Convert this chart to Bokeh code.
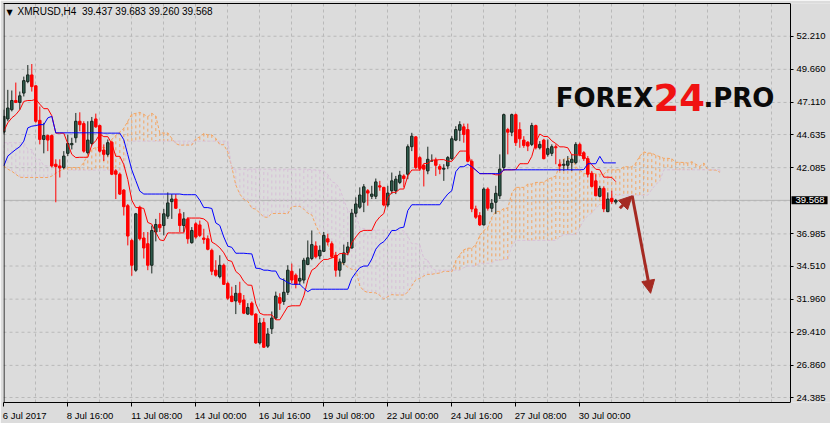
from bokeh.plotting import figure
from bokeh.models import (ColumnDataSource, FixedTicker, PrintfTickFormatter, Range1d,
                          Label, Span, Arrow, NormalHead, LinearAxis)
from bokeh.embed import file_html
from bokeh.resources import INLINE
import numpy as np

# ---------------- data (XMRUSD, H4) ----------------
open_ = [44.82, 45.84, 46.55, 47.26, 47.11, 47.83, 48.72, 49.23, 48.39, 45.73,
         44.26, 44.56, 44.56, 42.35, 42.22, 42.10, 43.19, 43.85, 44.39, 45.66,
         45.48, 43.24, 43.95, 45.84, 45.33, 43.44, 43.11, 44.05, 41.84, 41.58,
         40.36, 39.16, 36.48, 34.19, 39.04, 36.67, 36.23, 34.57, 37.13, 37.71,
         37.63, 38.35, 39.47, 39.67, 38.53, 37.63, 38.14, 36.31, 37.76, 37.68,
         36.67, 36.61, 35.72, 34.19, 33.69, 34.57, 33.17, 32.20, 31.82, 32.41,
         31.90, 30.81, 31.65, 30.81, 28.59, 30.17, 28.34, 29.68, 30.50, 32.08,
         31.78, 32.49, 34.11, 33.81, 33.35, 33.43, 34.63, 35.09, 36.06, 35.29,
         35.64, 36.61, 36.23, 35.34, 34.19, 34.78, 35.55, 35.90, 38.58, 39.04,
         39.42, 40.31, 39.88, 39.88, 40.69, 40.57, 39.21, 40.31, 40.31, 40.95,
         41.45, 41.58, 43.70, 44.46, 42.86, 42.27, 41.84, 42.60, 42.68, 42.17,
         41.97, 42.22, 42.78, 44.21, 44.97, 45.23, 45.02, 42.58, 38.91, 38.40,
         37.68, 40.44, 38.96, 39.42, 39.92, 42.10, 45.02, 44.82, 46.17, 45.02,
         44.21, 44.05, 43.88, 45.33, 43.62, 44.21, 43.11, 43.19, 43.70, 42.35,
         42.27, 42.27, 42.48, 42.48, 43.88, 43.24, 42.78, 41.66, 41.07, 39.88,
         40.49, 38.70, 39.73, 39.437]
high = [46.55, 48.08, 48.03, 48.64, 47.95, 49.10, 49.99, 50.07, 48.42, 46.80,
        45.54, 44.64, 44.64, 42.73, 42.73, 43.36, 44.64, 44.39, 46.30, 46.35,
        45.66, 45.66, 45.99, 46.25, 45.40, 43.88, 44.26, 44.13, 41.97, 41.71,
        40.44, 39.29, 36.61, 38.60, 39.16, 37.13, 37.13, 37.63, 38.14, 38.60,
        38.91, 40.18, 40.05, 40.05, 38.91, 38.66, 38.27, 37.51, 37.89, 38.01,
        37.38, 36.87, 35.85, 34.96, 35.34, 34.70, 33.30, 32.92, 33.05, 33.30,
        32.28, 31.65, 31.78, 30.88, 30.50, 30.50, 29.73, 31.01, 32.54, 32.41,
        33.56, 34.57, 34.70, 33.94, 34.32, 35.14, 36.48, 37.25, 36.41, 36.10,
        37.13, 37.00, 36.41, 35.60, 35.09, 36.16, 36.36, 38.91, 39.80, 40.57,
        40.82, 40.44, 40.69, 41.25, 41.07, 40.61, 40.69, 41.71, 41.45, 41.84,
        41.58, 43.88, 44.77, 44.51, 42.98, 42.35, 43.70, 43.11, 42.86, 42.35,
        42.35, 42.98, 44.51, 45.28, 45.66, 45.48, 45.48, 42.73, 39.16, 38.66,
        40.57, 40.57, 39.67, 40.69, 43.11, 46.25, 45.15, 46.25, 46.25, 45.58,
        44.51, 44.13, 45.54, 45.40, 44.13, 44.31, 44.26, 43.88, 43.88, 42.73,
        42.73, 42.98, 43.11, 44.05, 44.01, 43.36, 42.98, 41.84, 41.58, 40.69,
        40.64, 40.18, 40.31, 39.683]
low = [44.64, 45.66, 46.42, 47.06, 46.55, 47.57, 48.59, 47.95, 45.54, 43.88,
       43.19, 43.36, 42.10, 39.42, 41.33, 41.97, 42.98, 43.49, 44.01, 44.89,
       43.24, 43.11, 43.80, 45.15, 43.24, 42.60, 42.94, 41.51, 39.67, 39.98,
       38.40, 36.10, 33.76, 34.07, 36.48, 35.09, 34.19, 33.94, 36.41, 37.13,
       36.87, 38.14, 38.14, 38.91, 37.13, 37.13, 36.23, 36.23, 36.61, 36.74,
       36.23, 35.72, 33.81, 33.69, 33.56, 33.05, 31.90, 31.72, 30.81, 31.52,
       30.81, 30.75, 30.71, 28.51, 28.46, 28.20, 28.20, 29.28, 30.37, 31.13,
       31.52, 32.28, 33.17, 32.79, 33.05, 33.17, 34.57, 34.96, 35.09, 35.03,
       35.60, 36.10, 35.09, 33.69, 33.69, 34.57, 35.34, 35.85, 38.27, 38.91,
       38.66, 39.16, 39.67, 39.67, 40.31, 39.11, 39.04, 40.05, 40.05, 40.82,
       40.57, 41.20, 43.36, 41.97, 41.84, 40.64, 41.58, 42.60, 41.45, 41.58,
       41.07, 41.97, 42.68, 44.13, 44.13, 44.01, 42.50, 38.66, 38.14, 37.59,
       37.63, 38.78, 38.66, 38.53, 39.67, 41.84, 43.11, 44.51, 43.75, 43.62,
       43.62, 43.36, 43.75, 43.49, 43.49, 42.73, 42.94, 42.98, 42.35, 41.84,
       41.84, 41.91, 41.84, 42.35, 42.98, 42.60, 41.33, 40.57, 39.88, 39.80,
       38.66, 38.66, 39.29, 39.260]
close = [46.04, 46.68, 47.26, 47.11, 47.62, 48.79, 49.23, 48.33, 45.66, 44.26,
         44.56, 44.21, 42.22, 42.17, 42.06, 42.98, 43.95, 43.95, 45.66, 45.40,
         43.36, 44.21, 45.66, 45.23, 43.36, 43.11, 44.01, 41.58, 41.58, 40.05,
         39.08, 36.82, 34.57, 38.53, 36.61, 35.90, 34.57, 37.25, 37.71, 37.46,
         38.53, 39.37, 39.67, 38.96, 37.63, 38.14, 36.61, 37.25, 36.74, 36.87,
         36.56, 35.80, 34.11, 33.81, 34.57, 33.10, 32.03, 31.78, 32.41, 31.72,
         30.88, 31.32, 30.75, 28.59, 30.12, 28.26, 29.28, 30.50, 32.20, 31.65,
         32.49, 34.19, 33.43, 33.10, 33.56, 34.96, 35.14, 36.16, 35.22, 35.72,
         36.87, 36.36, 35.22, 34.19, 34.83, 35.52, 35.98, 38.58, 39.29, 39.98,
         40.61, 40.13, 40.05, 40.99, 40.59, 39.21, 40.13, 41.07, 41.20, 41.51,
         41.25, 43.70, 44.51, 42.10, 42.02, 41.97, 42.73, 42.60, 42.27, 41.97,
         42.04, 42.86, 44.31, 45.02, 45.40, 44.64, 42.58, 38.91, 38.27, 37.68,
         40.44, 38.96, 39.34, 40.11, 41.97, 46.17, 44.82, 46.17, 44.01, 44.31,
         43.80, 43.75, 45.33, 43.62, 43.88, 42.78, 43.55, 43.70, 43.62, 42.22,
         42.35, 42.60, 42.73, 43.88, 43.11, 42.78, 41.58, 40.64, 39.92, 40.49,
         38.91, 39.67, 39.47, 39.568]

# Ichimoku values (before enough bars are on screen)
tenkan_early = [44.89, 45.54, 45.92, 46.17, 46.55, 47.19, 47.26, 47.26]
kijun_early = [42.22, 42.98, 43.24, 43.49, 43.70, 44.13, 45.15, 45.28, 45.33, 45.40,
               45.40, 45.92, 46.04, 44.77, 44.77, 44.77, 44.77, 44.77, 44.77, 44.77,
               44.77, 44.77, 44.77, 44.77, 44.77]
span_a_early = [42.22, 41.97, 41.81, 41.58, 41.35, 41.33, 41.33, 41.33, 41.33, 41.33,
                41.33, 41.33, 41.43, 41.66, 41.84, 41.97, 42.10, 42.10, 42.10, 42.10,
                42.48, 43.11, 43.49, 43.65, 43.65, 43.65]
span_b_early = ([44.01] * 6 + [43.49] * 2 + [42.73] * 2 + [42.22] * 6 + [41.90] * 15
                + [44.13] * 26 + [41.97] * 20)

x_tick_bars = [0, 16, 32, 48, 64, 80, 96, 112, 128, 144]
x_tick_labels = ["6 Jul 2017", "8 Jul 16:00", "11 Jul 08:00", "14 Jul 00:00", "16 Jul 16:00",
                 "19 Jul 08:00", "22 Jul 00:00", "24 Jul 16:00", "27 Jul 08:00", "30 Jul 00:00"]
y_ticks = [52.210, 49.660, 47.110, 44.635, 42.085, 36.985, 34.510, 31.960, 29.410, 26.860, 24.385]
grid_y = y_ticks + [39.535]
last_price = 39.568
symbol = "XMRUSD,H4"

# ---------------- Ichimoku (9, 26, 52) from the candles ----------------
H = np.array(high)
L = np.array(low)
n = len(H)
tenkan = [tenkan_early[i] if i < 8 else (H[i - 8:i + 1].max() + L[i - 8:i + 1].min()) / 2
          for i in range(n)]
kijun = [kijun_early[i] if i < 25 else (H[i - 25:i + 1].max() + L[i - 25:i + 1].min()) / 2
         for i in range(n)]
nd = n + 26
span_a = [span_a_early[d] if d < 26 else (tenkan[d - 26] + kijun[d - 26]) / 2 for d in range(nd)]
span_b = [span_b_early[d] if d < 77 else (H[d - 77:d - 25].max() + L[d - 77:d - 25].min()) / 2
          for d in range(nd)]

BG = "#dcdcdc"
GRID = "#b9b9b9"
SANDY = "#f4a460"
THISTLE = "#d8bfd8"
BULL_FILL = "#2e5e4e"
BULL_LINE = "#18261f"
BEAR = "#ff0000"
ARROW = "#a52a22"
FONT = "Liberation Sans"
FS = 9.5            # small text size, px
PX_PER_BAR = 4.0

X0 = -0.075          # left edge of the chart box
XB = 196.675         # right edge of the chart box (price scale line)
XF = X0 + 827 / PX_PER_BAR   # frame reaches the right edge of the page
Y0, Y1 = 24.0, 54.73

p = figure(width=830, height=423, output_backend="svg", toolbar_location=None,
           x_range=Range1d(X0, XF), y_range=Range1d(Y0, Y1),
           y_axis_location=None, min_border_left=3, min_border_right=0,
           min_border_top=3, min_border_bottom=18,
           background_fill_color=BG, border_fill_color=BG,
           outline_line_color=None)

# vertical grid lines
p.xgrid.ticker = FixedTicker(ticks=list(range(8, 200, 8)))
p.xgrid.grid_line_color = GRID
p.xgrid.grid_line_dash = "3 3"
p.ygrid.grid_line_color = None
# horizontal grid lines, only across the chart box
p.segment(x0=[X0] * len(grid_y), y0=grid_y, x1=[XB] * len(grid_y), y1=grid_y,
          line_color=GRID, line_dash="3 3", line_width=1, level="underlay")
# current price line
p.segment(x0=[X0], y0=[last_price], x1=[XB], y1=[last_price],
          line_color="#b4b4b4", line_width=1, level="underlay")

# x axis: tick marks at the bar (minor ticks), labels left-aligned after the mark
CW = {" ": 0.278, ":": 0.278, "J": 0.5, "u": 0.556, "l": 0.222}
label_pos = []
for b, t in zip(x_tick_bars, x_tick_labels):
    w = sum(CW.get(ch, 0.556) for ch in t) * FS
    label_pos.append(round(b + (w / 2 - 1) / PX_PER_BAR, 3))
p.xaxis.ticker = FixedTicker(ticks=label_pos, minor_ticks=x_tick_bars)
p.xaxis.major_label_overrides = dict(zip(label_pos, x_tick_labels))
p.xaxis.major_label_text_font = FONT
p.xaxis.major_label_text_font_size = f"{FS}px"
p.xaxis.major_label_text_color = "black"
p.xaxis.major_label_standoff = 3
p.xaxis.major_tick_line_color = None
p.xaxis.major_tick_out = 0
p.xaxis.major_tick_in = 0
p.xaxis.minor_tick_line_color = "black"
p.xaxis.minor_tick_out = 4
p.xaxis.minor_tick_in = 0
p.xaxis.axis_line_color = "black"
p.xaxis.bounds = (X0, XB)

# price scale: drawn at the right edge of the chart box, labels to its right
yax = LinearAxis(fixed_location=XB, ticker=FixedTicker(ticks=y_ticks),
                 formatter=PrintfTickFormatter(format="%.3f"),
                 major_label_text_font=FONT, major_label_text_font_size=f"{FS}px",
                 major_label_text_color="black", major_label_standoff=-35,
                 major_tick_in=3, major_tick_out=0, minor_tick_line_color=None,
                 axis_line_color="black", major_tick_line_color="black")
p.add_layout(yax, "left")

# top and left edges of the chart box
top = LinearAxis(ticker=FixedTicker(ticks=[]), bounds=(X0, XB), axis_line_color="black",
                 major_tick_line_color=None, minor_tick_line_color=None,
                 major_tick_out=0, major_tick_in=0, minor_tick_out=0, minor_tick_in=0,
                 major_label_standoff=0)
p.add_layout(top, "above")
p.add_layout(Span(location=X0 + 0.125, dimension="height", line_color="black", line_width=1))

# cloud
dd = list(range(nd))
cloud = ColumnDataSource(dict(x=dd, a=span_a, b=span_b,
                              c=[SANDY if a >= b else THISTLE for a, b in zip(span_a, span_b)]))
p.segment(x0="x", y0="a", x1="x", y1="b", line_color="c", line_dash="3 3",
          line_width=1, source=cloud)
p.line(dd, span_a, line_color=SANDY, line_dash="3 2", line_width=1)
p.line(dd, span_b, line_color=THISTLE, line_dash="3 2", line_width=1)

# candles
idx = list(range(n))
up = [i for i in idx if close[i] >= open_[i]]
dn = [i for i in idx if close[i] < open_[i]]


def cds(ids):
    return ColumnDataSource(dict(
        x=ids,
        top=[max(open_[i], close[i]) for i in ids],
        bottom=[min(open_[i], close[i]) for i in ids],
        high=[high[i] for i in ids],
        low=[low[i] for i in ids]))


s_up, s_dn = cds(up), cds(dn)
p.segment(x0="x", y0="high", x1="x", y1="low", source=s_up, line_color=BULL_LINE, line_width=1)
p.segment(x0="x", y0="high", x1="x", y1="low", source=s_dn, line_color=BEAR, line_width=1)
p.vbar(x="x", width=0.62, top="top", bottom="bottom", source=s_up,
       fill_color=BULL_FILL, line_color=BULL_LINE, line_width=1)
p.vbar(x="x", width=0.62, top="top", bottom="bottom", source=s_dn,
       fill_color=BEAR, line_color=BEAR, line_width=1)

# tenkan / kijun
p.line(idx, tenkan, line_color="#ff0000", line_width=1)
p.line(idx, kijun, line_color="#0000ff", line_width=1)

# arrows
p.add_layout(Arrow(end=NormalHead(size=13, fill_color=ARROW, line_color=ARROW),
                   x_start=154.0, y_start=38.96, x_end=157.1, y_end=39.92,
                   line_color=ARROW, line_width=3))
p.add_layout(Arrow(end=NormalHead(size=13, fill_color=ARROW, line_color=ARROW),
                   x_start=157.1, y_start=39.92, x_end=161.7, y_end=32.41,
                   line_color=ARROW, line_width=3))

# title
p.add_layout(Label(x=X0, y=Y1, x_offset=3, y_offset=-4, text="\u25bc",
                   text_font="DejaVu Sans", text_font_size="8px", text_color="black",
                   text_baseline="top", text_align="left"))
p.add_layout(Label(x=X0, y=Y1, x_offset=14, y_offset=-2,
                   text=symbol + "\u00a0 " + " ".join(f"{v:.3f}" for v in
                                                      (open_[-1], high[-1], low[-1], close[-1])),
                   text_font=FONT, text_font_size="10px", text_color="black",
                   text_baseline="top", text_align="left"))

# logo
p.add_layout(Label(x=162.4, y=47.48, text="FOREX", text_font="DejaVu Sans",
                   text_font_style="bold", text_font_size="26px", text_color="#0a0a0a",
                   text_align="right", text_baseline="alphabetic"))
p.add_layout(Label(x=162.4, y=47.48, text="24", text_font="DejaVu Sans",
                   text_font_style="bold", text_font_size="37px", text_color="#f01212",
                   text_align="left", text_baseline="alphabetic"))
p.add_layout(Label(x=174.9, y=47.48, text=".PRO", text_font="DejaVu Sans",
                   text_font_style="bold", text_font_size="26px", text_color="#0a0a0a",
                   text_align="left", text_baseline="alphabetic"))

# last price tag on the price scale
tag_kw = dict(x=XB, y=last_price, x_offset=1, text=f"{last_price:.3f}",
              text_font=FONT, text_font_size=f"{FS}px", text_color="white",
              background_fill_color="black",
              text_align="left", text_baseline="middle")
try:
    tag = Label(padding=dict(left=4, right=3, top=1, bottom=1), **tag_kw)
except Exception:
    tag = Label(padding=2, **tag_kw)
p.add_layout(tag)

open("out.html", "w").write(file_html(p, INLINE))
